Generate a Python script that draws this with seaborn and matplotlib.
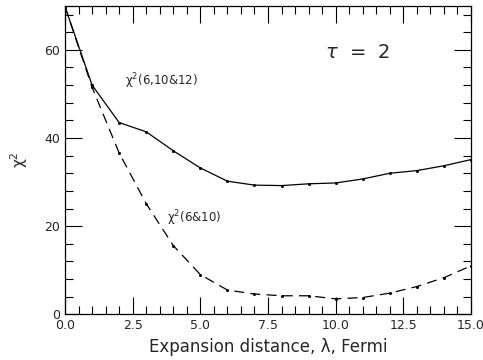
import matplotlib
matplotlib.use("Agg")
import matplotlib.pyplot as plt
from matplotlib.ticker import MultipleLocator
import seaborn as sns
import numpy as np

# expansion distance (Fermi)
lam = [0, 1, 2, 3, 4, 5, 6, 7, 8, 9, 10, 11, 12, 13, 14, 15]
# chi^2 using 6, 10 & 12 MeV data (solid)
chi2_6_10_12 = [69.8, 52.0, 43.5, 41.4, 37.1, 33.2, 30.2, 29.3, 29.2, 29.6, 29.8, 30.7, 32.0, 32.6, 33.7, 35.1]
# chi^2 using 6 & 10 MeV data (dashed)
chi2_6_10 = [69.8, 51.5, 36.6, 25.1, 15.6, 9.0, 5.5, 4.6, 4.2, 4.2, 3.5, 3.8, 4.8, 6.3, 8.3, 11.0]

sns.set_style("ticks")
plt.rcParams['font.family'] = ['DejaVu Sans']

fig = plt.figure(figsize=(4.83, 3.6), dpi=100)
ax = fig.add_axes([0.1346, 0.127, 0.8406, 0.857])

sns.lineplot(x=lam, y=chi2_6_10_12, ax=ax, color='black', lw=0.9,
             marker='o', markersize=2.2, markeredgewidth=0)
sns.lineplot(x=lam, y=chi2_6_10, ax=ax, color='black', lw=0.9,
             linestyle=(0, (8, 5)), marker='o', markersize=2.2, markeredgewidth=0)

ax.set_xlim(0, 15)
ax.set_ylim(0, 70)
ax.xaxis.set_major_locator(MultipleLocator(2.5))
ax.xaxis.set_minor_locator(MultipleLocator(0.5))
ax.yaxis.set_major_locator(MultipleLocator(20))
ax.yaxis.set_minor_locator(MultipleLocator(4))
ax.xaxis.set_major_formatter(matplotlib.ticker.FormatStrFormatter('%.1f'))
ax.tick_params(which='both', direction='in', top=True, right=True, width=0.8,
               labelsize=9, color='black')
ax.tick_params(which='major', length=12)
ax.tick_params(which='minor', length=6)
for s in ax.spines.values():
    s.set_linewidth(0.9)
    s.set_color('black')

ax.set_xlabel('Expansion distance, λ, Fermi', fontsize=12, labelpad=4)
ax.set_ylabel('χ$^2$', fontsize=11, labelpad=10)

ax.text(2.2, 52.8, 'χ$^2$(6,10&12)', fontsize=8.5, va='center')
ax.text(3.75, 21.7, 'χ$^2$(6&10)', fontsize=8.5, va='center')
ax.text(9.6, 59.4, '$\\tau$  =  2', fontsize=14, va='center')

fig.savefig('out.png', dpi=100)
